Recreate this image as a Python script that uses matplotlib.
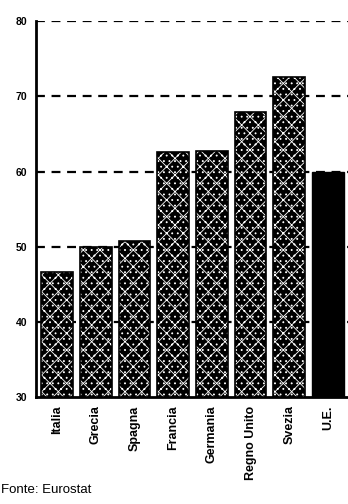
import matplotlib
matplotlib.use("Agg")
import matplotlib.pyplot as plt
from matplotlib import font_manager

categories = ["Italia", "Grecia", "Spagna", "Francia", "Germania", "Regno Unito", "Svezia", "U.E."]
values = [46.6, 50.0, 50.7, 62.6, 62.8, 67.9, 72.6, 60.0]
yticks = [30, 40, 50, 60, 70, 80]

names = {f.name for f in font_manager.fontManager.ttflist}
fam = "Liberation Sans Narrow" if "Liberation Sans Narrow" in names else "Liberation Sans"

plt.rcParams["hatch.linewidth"] = 0.6

fig = plt.figure(figsize=(3.48, 5.04), dpi=100)
ax = fig.add_axes([0.103, 0.212, 0.897, 0.746])

x = list(range(len(categories)))
for i, (c, v) in enumerate(zip(categories, values)):
    if c == "U.E.":
        ax.bar(i, v - 30, bottom=30, width=0.82, color="black", edgecolor="black", zorder=3)
    else:
        ax.bar(i, v - 30, bottom=30, width=0.82, facecolor="black", edgecolor="white",
               hatch="xx...", linewidth=0, zorder=3)
        ax.bar(i, v - 30, bottom=30, width=0.82, fill=False, edgecolor="black",
               linewidth=1.2, zorder=4)

ax.set_ylim(30, 80)
ax.set_xlim(-0.55, 7.52)
ax.set_yticks(yticks)
ax.set_yticklabels([str(t) for t in yticks], fontsize=7.5, fontweight="bold", family=fam)
ax.set_xticks(x)
ax.set_xticklabels(categories, rotation=90, fontsize=9, fontweight="bold", family=fam)
ax.tick_params(axis="both", length=0, pad=6)
for t in yticks[1:]:
    ax.axhline(t, color="black", linestyle=(0, (4, 3)), linewidth=1.6, zorder=1)
ax.spines["top"].set_visible(False)
ax.spines["right"].set_visible(False)
ax.spines["left"].set_linewidth(2)
ax.spines["bottom"].set_linewidth(2)

fig.text(0.003, 0.016, "Fonte: Eurostat", fontsize=9.5, family=fam, ha="left", va="bottom")

fig.savefig("out.png", dpi=100)
